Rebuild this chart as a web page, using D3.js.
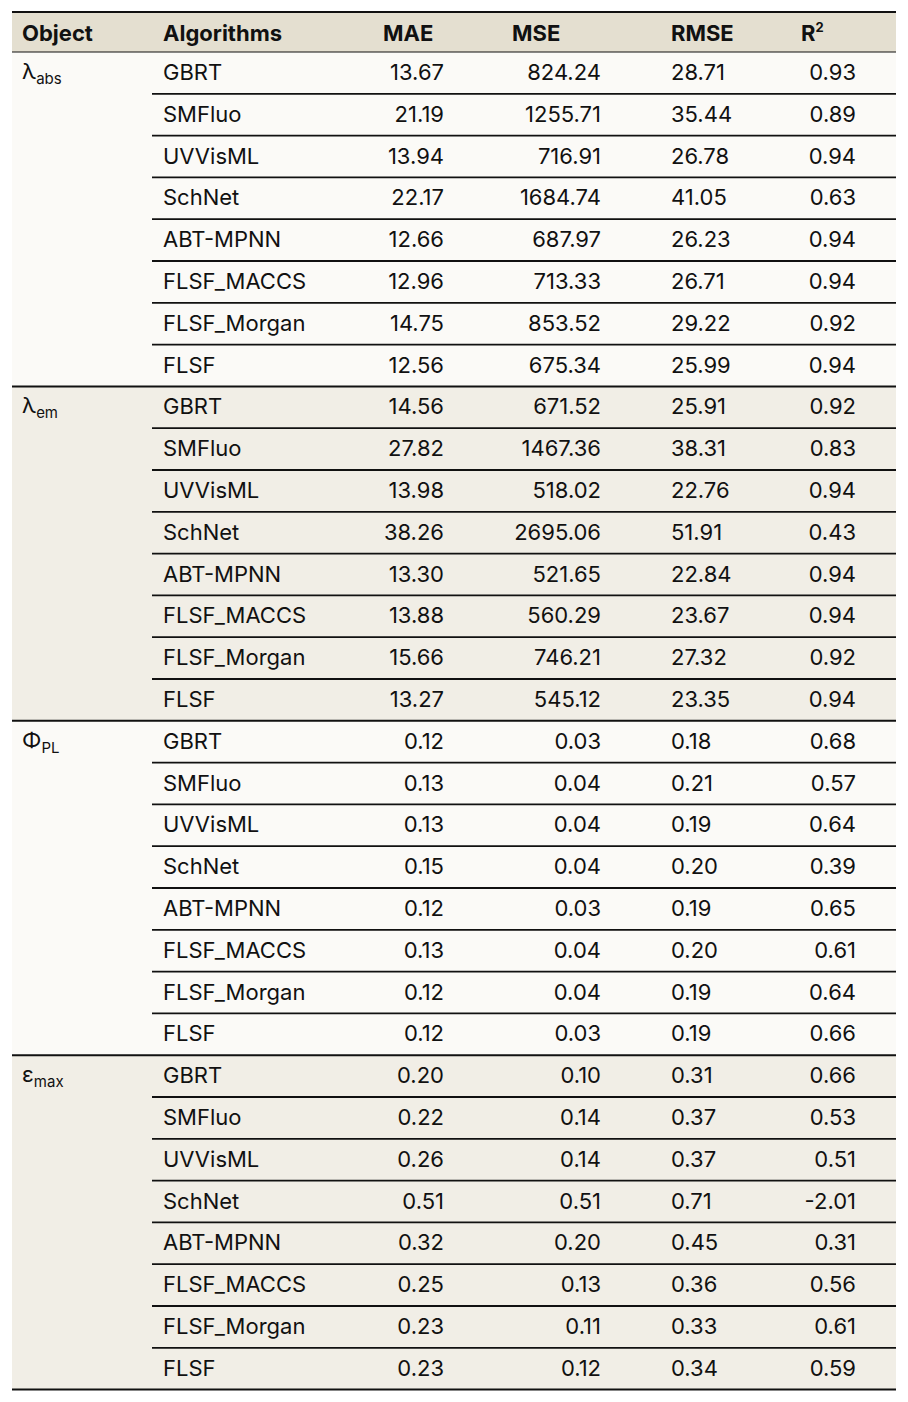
<!DOCTYPE html>
<html><head><meta charset="utf-8">
<script src="https://cdn.jsdelivr.net/npm/d3@7"></script>
<style>body{margin:0;background:#fff}</style>
</head><body><svg id="t" width="908" height="1402"></svg>
<script>
const objects = [["λ","abs"],["λ","em"],["Φ","PL"],["ε","max"]];
const algorithms = ["GBRT","SMFluo","UVVisML","SchNet","ABT-MPNN","FLSF_MACCS","FLSF_Morgan","FLSF"];
const mae = [["13.67","21.19","13.94","22.17","12.66","12.96","14.75","12.56"],
  ["14.56","27.82","13.98","38.26","13.30","13.88","15.66","13.27"],
  ["0.12","0.13","0.13","0.15","0.12","0.13","0.12","0.12"],
  ["0.20","0.22","0.26","0.51","0.32","0.25","0.23","0.23"]];
const mse = [["824.24","1255.71","716.91","1684.74","687.97","713.33","853.52","675.34"],
  ["671.52","1467.36","518.02","2695.06","521.65","560.29","746.21","545.12"],
  ["0.03","0.04","0.04","0.04","0.03","0.04","0.04","0.03"],
  ["0.10","0.14","0.14","0.51","0.20","0.13","0.11","0.12"]];
const rmse = [["28.71","35.44","26.78","41.05","26.23","26.71","29.22","25.99"],
  ["25.91","38.31","22.76","51.91","22.84","23.67","27.32","23.35"],
  ["0.18","0.21","0.19","0.20","0.19","0.20","0.19","0.19"],
  ["0.31","0.37","0.37","0.71","0.45","0.36","0.33","0.34"]];
const r2 = [["0.93","0.89","0.94","0.63","0.94","0.94","0.92","0.94"],
  ["0.92","0.83","0.94","0.43","0.94","0.94","0.92","0.94"],
  ["0.68","0.57","0.64","0.39","0.65","0.61","0.64","0.66"],
  ["0.66","0.53","0.51","-2.01","0.31","0.56","0.61","0.59"]];

const svg = d3.select("#t");
const font = "Inter, 'Noto Sans', sans-serif";
const x0 = 12, x1 = 896, topY = 12, headH = 40, rowH = 41.8;
const nRows = objects.length * algorithms.length;
const y = d3.scaleLinear().domain([0, nRows]).range([topY + headH, topY + headH + nRows * rowH]);
const cols = [
  {key:"MAE", x:444, anchor:"end", hx:383, data:mae},
  {key:"MSE", x:601, anchor:"end", hx:512, data:mse},
  {key:"RMSE", x:671, anchor:"start", hx:671, data:rmse},
  {key:"R2", x:856, anchor:"end", hx:801, data:r2}
];

// backgrounds
svg.append("rect").attr("x",x0).attr("y",topY).attr("width",x1-x0).attr("height",headH).attr("fill","#e4dfd0");
objects.forEach((o,g)=>{
  svg.append("rect").attr("x",x0).attr("y",y(g*8)).attr("width",x1-x0).attr("height",y(8)-y(0))
    .attr("fill", g%2 ? "#f1eee6" : "#fbfaf7");
});

// header
const hdr = svg.append("g").attr("font-family",font).attr("font-weight",700).attr("font-size",22).attr("fill","#111");
hdr.append("text").attr("x",22).attr("y",topY+29).text("Object");
hdr.append("text").attr("x",163).attr("y",topY+29).text("Algorithms");
cols.forEach(c=>{
  const t = hdr.append("text").attr("x",c.hx).attr("y",topY+29);
  if (c.key==="R2") { t.text("R"); t.append("tspan").attr("font-size",13).attr("dy",-9).text("2"); }
  else t.text(c.key);
});

// body
const body = svg.append("g").attr("font-family",font).attr("font-size",22).attr("fill","#111");
objects.forEach((o,g)=>{
  const ot = body.append("text").attr("x",22).attr("y",y(g*8)+27).text(o[0]);
  ot.append("tspan").attr("font-size",15).attr("dy",5).text(o[1]);
  algorithms.forEach((a,i)=>{
    const r = g*8+i, by = y(r)+28;
    body.append("text").attr("x",163).attr("y",by).text(a);
    cols.forEach(c=>body.append("text").attr("x",c.x).attr("y",by).attr("text-anchor",c.anchor).text(c.data[g][i]));
    if (i>0) svg.append("line").attr("x1",152).attr("x2",x1).attr("y1",y(r)).attr("y2",y(r)).attr("stroke","#111").attr("stroke-width",1.8);
  });
  svg.append("line").attr("x1",x0).attr("x2",x1).attr("y1",y(g*8+8)).attr("y2",y(g*8+8)).attr("stroke","#111").attr("stroke-width",2);
});
svg.append("line").attr("x1",x0).attr("x2",x1).attr("y1",topY).attr("y2",topY).attr("stroke","#111").attr("stroke-width",2);
svg.append("line").attr("x1",x0).attr("x2",x1).attr("y1",y(0)).attr("y2",y(0)).attr("stroke","#111").attr("stroke-width",1.2);
</script></body></html>
